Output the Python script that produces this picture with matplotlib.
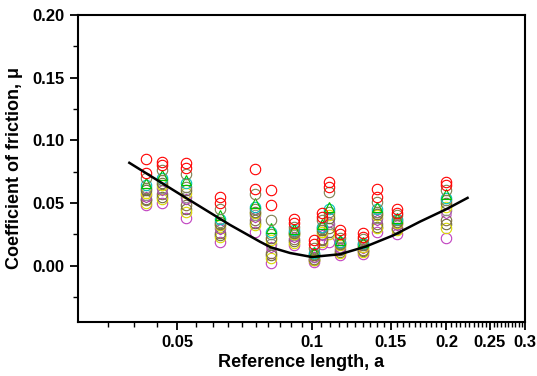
import matplotlib.pyplot as plt
from matplotlib.ticker import FixedLocator, FixedFormatter, NullFormatter
import numpy as np

plt.rcParams['font.family'] = ['Liberation Sans', 'DejaVu Sans']
plt.rcParams['font.weight'] = 'bold'

# reference lengths (one column of points each)
ref_len = [0.0426, 0.0462, 0.0523, 0.0623, 0.0747, 0.081, 0.0912, 0.101,
           0.1055, 0.109, 0.1157, 0.130, 0.140, 0.155, 0.200]

# friction coefficient per run
run1 = [0.085, 0.083, 0.082, 0.055, 0.077, 0.060, 0.037, 0.020, 0.042, 0.067, 0.028, 0.026, 0.061, 0.045, 0.067]
run2 = [0.074, 0.080, 0.078, 0.050, 0.061, 0.048, 0.034, 0.017, 0.039, 0.063, 0.025, 0.023, 0.055, 0.042, 0.064]
run3 = [0.070, 0.076, 0.073, 0.045, 0.057, 0.036, 0.031, 0.014, 0.036, 0.059, 0.022, 0.021, 0.051, 0.040, 0.060]
run4 = [0.066, 0.072, 0.068, 0.040, 0.050, 0.030, 0.029, 0.011, 0.033, 0.047, 0.020, 0.019, 0.047, 0.038, 0.057]
run5 = [0.062, 0.068, 0.063, 0.035, 0.045, 0.025, 0.027, 0.009, 0.030, 0.043, 0.018, 0.017, 0.043, 0.036, 0.052]
run6 = [0.058, 0.064, 0.058, 0.032, 0.042, 0.020, 0.025, 0.008, 0.027, 0.040, 0.016, 0.015, 0.040, 0.034, 0.047]
run7 = [0.055, 0.060, 0.053, 0.029, 0.039, 0.015, 0.023, 0.007, 0.024, 0.035, 0.014, 0.014, 0.036, 0.032, 0.042]
run8 = [0.052, 0.057, 0.048, 0.026, 0.036, 0.010, 0.021, 0.005, 0.021, 0.030, 0.012, 0.012, 0.033, 0.030, 0.036]
run9 = [0.050, 0.053, 0.043, 0.023, 0.032, 0.006, 0.018, 0.004, 0.019, 0.025, 0.010, 0.011, 0.030, 0.028, 0.030]
run10 = [0.048, 0.050, 0.038, 0.019, 0.027, 0.002, 0.016, 0.003, 0.017, 0.019, 0.008, 0.009, 0.027, 0.025, 0.022]
run11 = [0.064, 0.070, 0.066, 0.037, 0.047, 0.027, 0.028, 0.010, 0.031, 0.045, 0.019, 0.018, 0.045, 0.037, 0.054]
run12 = [0.060, 0.066, 0.060, 0.033, 0.043, 0.022, 0.026, 0.0085, 0.028, 0.038, 0.017, 0.016, 0.041, 0.035, 0.050]
run13 = [0.056, 0.062, 0.055, 0.030, 0.040, 0.017, 0.024, 0.0065, 0.025, 0.033, 0.015, 0.0145, 0.038, 0.033, 0.044]
run14 = [0.053, 0.055, 0.045, 0.024, 0.034, 0.008, 0.0195, 0.0045, 0.020, 0.027, 0.011, 0.0115, 0.031, 0.029, 0.033]

# fitted curve
fit_x = [0.0391, 0.0507, 0.0656, 0.0766, 0.0809, 0.0894, 0.100, 0.1157,
         0.1317, 0.152, 0.1745, 0.200, 0.223]
fit_y = [0.082, 0.057, 0.0325, 0.019, 0.0146, 0.010, 0.0068, 0.009,
         0.015, 0.024, 0.035, 0.045, 0.054]

runs = [run10, run14, run9, run8, run13, run7, run6, run12, run5, run11,
        run4, run3, run2, run1]
styles = [('#c040c0', 'o'), ('#6e6a40', 'o'), ('#d8d800', 'o'), ('#807040', 'o'),
          ('#909090', 'o'), ('#b040b0', 'h'), ('#e0e000', 'o'), ('#6e6a40', 'o'),
          ('#808050', 'o'), ('#00c0c0', 'o'), ('#00c000', '^'), ('#808050', 'o'),
          ('#ff0000', 'o'), ('#ff0000', 'o')]

fig = plt.figure(figsize=(5.37, 3.76), dpi=100)
ax = fig.add_axes([0.145, 0.144, 0.833, 0.816])

for vals, (c, m) in zip(runs, styles):
    ax.plot(ref_len, vals, linestyle='none', marker=m, markersize=7.5,
            markerfacecolor='none', markeredgecolor=c, markeredgewidth=0.8)

ax.plot(fit_x, fit_y, color='black', linewidth=1.8)

ax.set_xscale('log')
ax.set_xlim(0.03, 0.3)
ax.set_ylim(-0.045, 0.2)

majors = [0.05, 0.1, 0.15, 0.2, 0.25, 0.3]
ax.xaxis.set_major_locator(FixedLocator(majors))
ax.xaxis.set_major_formatter(FixedFormatter(['0.05', '0.1', '0.15', '0.2', '0.25', '0.3']))
minors = [round(v, 3) for v in np.arange(0.035, 0.3, 0.005)]
minors = [v for v in minors if v not in majors]
ax.xaxis.set_minor_locator(FixedLocator(minors))
ax.xaxis.set_minor_formatter(NullFormatter())

ax.set_yticks([0.0, 0.05, 0.10, 0.15, 0.20])
ax.set_yticklabels(['0.00', '0.05', '0.10', '0.15', '0.20'])
ax.set_yticks([-0.025, 0.025, 0.075, 0.125, 0.175], minor=True)

ax.tick_params(which='major', direction='out', length=6, width=1.3, labelsize=12,
               top=False, right=False)
ax.tick_params(which='minor', direction='out', length=3.5, width=1.0,
               top=False, right=False)
for s in ax.spines.values():
    s.set_linewidth(1.5)

ax.set_xlabel('Reference length, a', fontsize=13, fontweight='bold', labelpad=3)
ax.set_ylabel('Coefficient of friction, μ', fontsize=13, fontweight='bold', labelpad=7)

fig.savefig('out.png', dpi=100)
